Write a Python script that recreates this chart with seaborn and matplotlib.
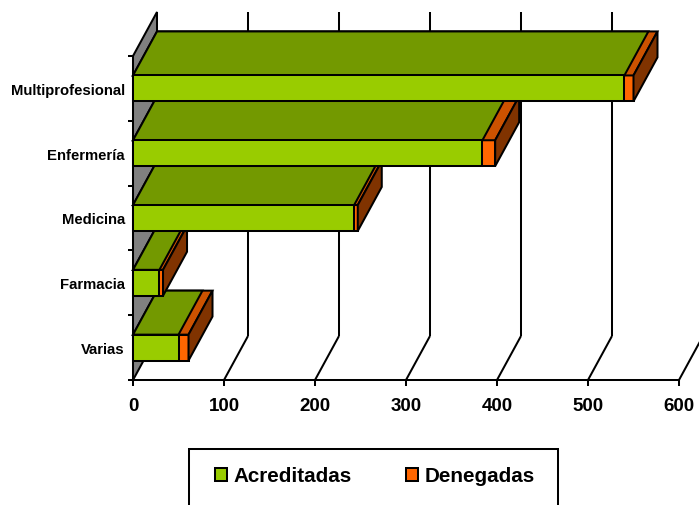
import matplotlib
matplotlib.use("Agg")
import matplotlib.pyplot as plt
from matplotlib.patches import Polygon, Rectangle, Patch
import pandas as pd
import seaborn as sns

# Datos
categorias = ["Multiprofesional", "Enfermería", "Medicina", "Farmacia", "Varias"]
acreditadas = [540, 384, 243, 29, 50]
denegadas = [10, 14, 4, 4, 11]
ticks_x = [0, 100, 200, 300, 400, 500, 600]

# Colores (cara frontal, superior y lateral de cada serie)
VERDE, VERDE_SUP, VERDE_LAT = "#99CC00", "#739900", "#4D6600"
NARANJA, NARANJA_SUP, NARANJA_LAT = "#FF6600", "#CC5200", "#803300"
MURO = "#808080"

sns.set_style("white")
plt.rcParams["font.family"] = ["Liberation Sans", "DejaVu Sans"]
plt.rcParams["font.weight"] = "bold"
plt.rcParams["text.color"] = "black"
plt.rcParams["xtick.color"] = "black"
plt.rcParams["ytick.color"] = "black"
plt.rcParams["xtick.labelcolor"] = "black"
plt.rcParams["ytick.labelcolor"] = "black"

df = pd.DataFrame({"categoria": categorias,
                   "Acreditadas": acreditadas,
                   "Denegadas": denegadas})
df["total"] = df["Acreditadas"] + df["Denegadas"]

W, H = 699, 506
fig = plt.figure(figsize=(W / 100, H / 100), dpi=100)
ax = fig.add_axes([133 / W, 1 - 381 / H, 546 / W, 324 / H])

ANCHO = 0.40
LW = 1.45
PROF_X = 24 / 0.91    # profundidad en unidades del eje de valores
PROF_Y = 44 / 64.8    # profundidad en unidades de categoría

# Barras apiladas: total (Denegadas) detrás y Acreditadas delante
sns.barplot(data=df, y="categoria", x="total", orient="h", color=NARANJA,
            saturation=1, width=ANCHO, edgecolor="black", linewidth=LW,
            errorbar=None, ax=ax)
n_tot = len(ax.patches)
sns.barplot(data=df, y="categoria", x="Acreditadas", orient="h", color=VERDE,
            saturation=1, width=ANCHO, edgecolor="black", linewidth=LW,
            errorbar=None, ax=ax)
barras_tot = list(ax.patches[:n_tot])
barras_acr = list(ax.patches[n_tot:])

ax.set_xlim(0, 600)
ax.set_ylim(len(categorias) - 0.5, -0.5)
y_fondo = len(categorias) - 0.5


def caras(rect, sup, lat):
    x0, w = rect.get_x(), rect.get_width()
    y0, h = rect.get_y(), rect.get_height()
    x1 = x0 + w
    yt, yb = min(y0, y0 + h), max(y0, y0 + h)
    arriba = Polygon([(x0, yt), (x1, yt), (x1 + PROF_X, yt - PROF_Y),
                      (x0 + PROF_X, yt - PROF_Y)], closed=True,
                     facecolor=sup, edgecolor="black", linewidth=LW,
                     joinstyle="miter", clip_on=False)
    lado = Polygon([(x1, yt), (x1, yb), (x1 + PROF_X, yb - PROF_Y),
                    (x1 + PROF_X, yt - PROF_Y)], closed=True,
                   facecolor=lat, edgecolor="black", linewidth=LW,
                   joinstyle="miter", clip_on=False)
    return arriba, lado


n = len(categorias)
for r_tot, r_acr in zip(barras_tot, barras_acr):
    i = int(round(r_tot.get_y() + r_tot.get_height() / 2))
    z = 10 + (n - 1 - i) * 2
    sup_a, lat_a = caras(r_acr, VERDE_SUP, VERDE_LAT)
    sup_t, lat_t = caras(r_tot, NARANJA_SUP, NARANJA_LAT)
    lat_a.set_zorder(z + 0.1)
    r_tot.set_zorder(z + 0.2)
    sup_t.set_zorder(z + 0.3)
    lat_t.set_zorder(z + 0.4)
    sup_a.set_zorder(z + 0.5)
    r_acr.set_zorder(z + 0.6)
    for p in (lat_a, sup_t, lat_t, sup_a):
        ax.add_patch(p)
    for r in (r_tot, r_acr):
        r.set_clip_on(False)
        r.set_joinstyle("miter")

# Pared lateral gris
muro = Polygon([(0, -0.5), (PROF_X, -0.5 - PROF_Y), (PROF_X, y_fondo - PROF_Y),
                (0, y_fondo)], closed=True, facecolor=MURO, edgecolor="black",
               linewidth=LW, zorder=2, clip_on=False)
ax.add_patch(muro)

# Líneas de división en suelo y pared del fondo
for v in ticks_x[1:]:
    ax.plot([v, v + PROF_X], [y_fondo, y_fondo - PROF_Y], color="black",
            lw=LW, zorder=1, clip_on=False, solid_capstyle="butt")
    ax.plot([v + PROF_X, v + PROF_X], [y_fondo - PROF_Y, -0.5 - PROF_Y],
            color="black", lw=LW, zorder=1, clip_on=False, solid_capstyle="butt")

# Ejes
for lado in ("top", "right"):
    ax.spines[lado].set_visible(False)
for lado in ("left", "bottom"):
    ax.spines[lado].set_color("black")
    ax.spines[lado].set_linewidth(LW)
    ax.spines[lado].set_zorder(2.5)

ax.set_xticks(ticks_x)
ax.set_xticklabels([str(t) for t in ticks_x], fontsize=13.5,
                   fontweight="bold", color="black")
ax.tick_params(axis="x", which="major", direction="out", length=4.3,
               width=LW, color="black", pad=8, bottom=True)
ax.set_yticks(range(n))
ax.set_yticklabels(categorias, fontsize=10.7, fontweight="bold", color="black")
ax.set_yticks([k - 0.5 for k in range(n + 1)], minor=True)
ax.tick_params(axis="y", which="major", length=0, pad=5.8, left=True)
ax.tick_params(axis="y", which="minor", direction="out", length=3.6,
               width=LW, color="black", left=True)
ax.set_xlabel("")
ax.set_ylabel("")
ax.grid(False)

# Leyenda
marco = Rectangle((189 / W, 1 - 520 / H), (558 - 189) / W, (520 - 450) / H,
                  transform=fig.transFigure, fill=False, edgecolor="black",
                  linewidth=LW)
fig.patches.append(marco)
manejadores = [Patch(facecolor=VERDE, edgecolor="black", linewidth=LW, label="Acreditadas"),
               Patch(facecolor=NARANJA, edgecolor="black", linewidth=LW, label="Denegadas")]
leyenda = fig.legend(handles=manejadores, loc="center", ncol=2,
                     bbox_to_anchor=(375 / W, 1 - 477 / H), frameon=False,
                     prop={"size": 14.9, "weight": "bold"}, handlelength=0.58,
                     handleheight=0.58, handletextpad=0.34, columnspacing=2.6)
for t in leyenda.get_texts():
    t.set_color("black")

fig.savefig("out.png", dpi=100)
